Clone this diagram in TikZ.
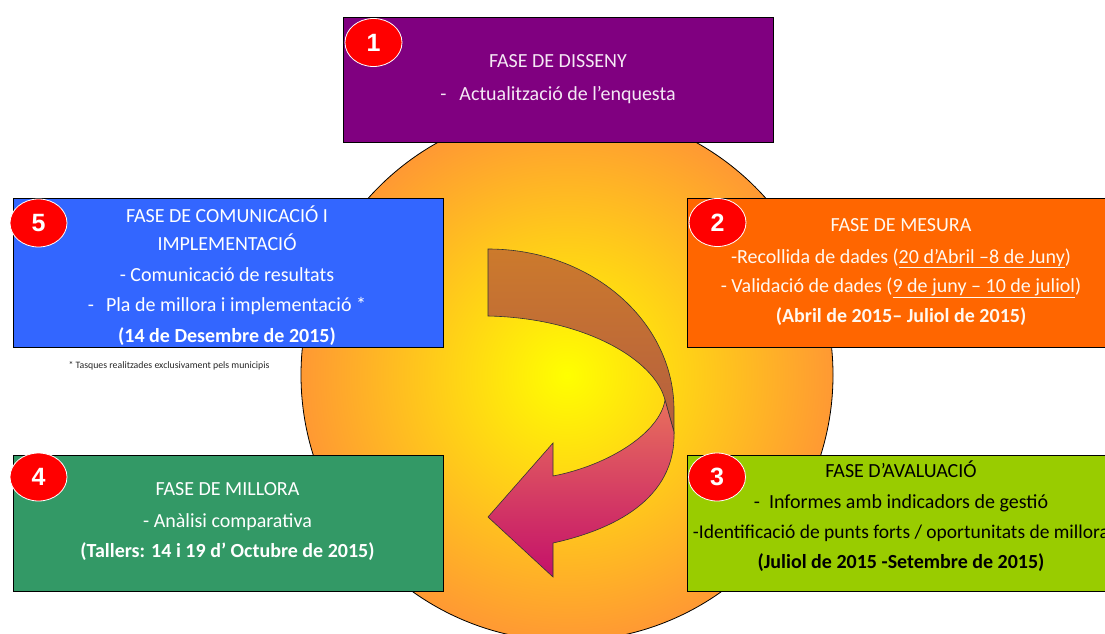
\documentclass[tikz,border=0pt]{standalone}
\usepackage{fontspec}
\usetikzlibrary{shapes.geometric}
\setmainfont{Carlito}
\newfontfamily\badgefont{Liberation Sans}
\definecolor{purpleC}{HTML}{800080}
\definecolor{blueC}{HTML}{3366FF}
\definecolor{orangeC}{HTML}{FF6600}
\definecolor{limeC}{HTML}{99CC00}
\definecolor{greenC}{HTML}{339966}
\definecolor{circOut}{HTML}{FF9933}
\definecolor{circIn}{HTML}{FFFF00}
\definecolor{brownTop}{HTML}{CC7A2C}
\definecolor{brownBot}{HTML}{B45E40}
\definecolor{pinkTop}{HTML}{E8705C}
\definecolor{pinkBot}{HTML}{C4106A}
\definecolor{txtPurple}{HTML}{F5E8F5}
\definecolor{txtLight}{HTML}{FFF8F0}
\begin{document}
\begin{tikzpicture}[x=1pt,y=-1pt,
  box/.style={draw=black, line width=0.8pt, minimum width=430, inner sep=0pt},
  line/.style={anchor=base, inner sep=0pt, font=\fontsize{20}{24}\selectfont},
  badge/.style={ellipse, draw=white, line width=0.8pt, fill=red, minimum width=57, minimum height=48, inner sep=0pt, text=white, font=\badgefont\bfseries\fontsize{25}{25}\selectfont}
]
\useasboundingbox (0,0) rectangle (1105,634);
\clip (0,0) rectangle (1105,634);
% background circle
\shadedraw[inner color=circIn, outer color=circOut, draw=black, line width=0.8pt] (567,375) circle[radius=266];

% boxes
\node[box, fill=purpleC, minimum height=125] (b1) at (558,79.5) {};
\node[box, fill=blueC, minimum height=149] (b5) at (228,272.5) {};
\node[box, fill=orangeC, minimum height=149] (b2) at (902,272.5) {};
\node[box, fill=limeC, minimum height=136] (b3) at (902,523) {};
\node[box, fill=greenC, minimum height=136] (b4) at (228,523) {};

% box 1 text
\node[line, text=txtPurple] (t1a) at (558,67) {FASE DE DISSENY};
\node[line, text=txtPurple] (t1b) at (558,100.5) {-\hspace{13pt}Actualització de l’enquesta};

% box 5 text
\node[line, text=white] (t5a) at (227,222) {FASE DE COMUNICACIÓ I};
\node[line, text=white] (t5b) at (227,250) {IMPLEMENTACIÓ};
\node[line, text=white] (t5c) at (227,281) {- Comunicació de resultats};
\node[line, text=white] (t5d) at (227,311) {-\hspace{12pt}Pla de millora i implementació *};
\node[line, text=white, font=\bfseries\fontsize{20}{24}\selectfont] (t5e) at (227,342) {(14 de Desembre de 2015)};
\node[anchor=base, inner sep=0pt, font=\fontsize{9.8}{11}\selectfont, text=black!85] (foot) at (169,368) {* Tasques realitzades exclusivament pels municipis};

% box 2 text
\node[line, text=txtLight] (t2a) at (901,231) {FASE DE MESURA};
\node[line, text=txtLight] (t2b) at (901,263) {-Recollida de dades (\underline{20 d’Abril –8 de Juny})};
\node[line, text=txtLight] (t2c) at (901,292) {- Validació de dades (\underline{9 de juny – 10 de juliol})};
\node[line, text=txtLight, font=\bfseries\fontsize{20}{24}\selectfont] (t2d) at (901,322) {(Abril de 2015– Juliol de 2015)};

% box 3 text
\node[line, text=black] (t3a) at (901,477) {FASE D’AVALUACIÓ};
\node[line, text=black] (t3b) at (901,508) {-\hspace{9pt}Informes amb indicadors de gestió};
\node[line, text=black, font=\fontsize{19.5}{24}\selectfont] (t3c) at (901,538) {-Identificació de punts forts / oportunitats de millora};
\node[line, text=black, font=\bfseries\fontsize{20}{24}\selectfont] (t3d) at (901,568) {(Juliol de 2015 -Setembre de 2015)};

% box 4 text
\node[line, text=white] (t4a) at (227.5,495) {FASE DE MILLORA};
\node[line, text=white] (t4b) at (227.5,527) {- Anàlisi comparativa};
\node[line, text=white, font=\bfseries\fontsize{20}{24}\selectfont] (t4c) at (227.5,557) {(Tallers: 14 i 19 d’ Octubre de 2015)};

% curved arrow: back (brown) part
\shadedraw[top color=brownTop, bottom color=brownBot, draw=black!80, line width=0.6pt]
  (488,249) .. controls (591,249) and (674,321) .. (674,410)
  -- (674,432) -- (665,400)
  .. controls (655,360) and (585,318) .. (488,316) -- cycle;
% front (pink) part with head
\shadedraw[top color=pinkTop, bottom color=pinkBot, draw=black!80, line width=0.6pt]
  (665,400) -- (674,432)
  .. controls (676,500) and (612,530) .. (553,543)
  -- (553,577) -- (488,517) -- (553,443) -- (553,476)
  .. controls (610,465) and (660,432) .. (665,400) -- cycle;

% badges
\node[badge] (n1) at (373.5,42.5) {1};
\node[badge] (n5) at (38.5,223) {5};
\node[badge] (n2) at (717.5,222.5) {2};
\node[badge] (n3) at (717,477) {3};
\node[badge] (n4) at (38.5,477) {4};
\end{tikzpicture}
\end{document}
